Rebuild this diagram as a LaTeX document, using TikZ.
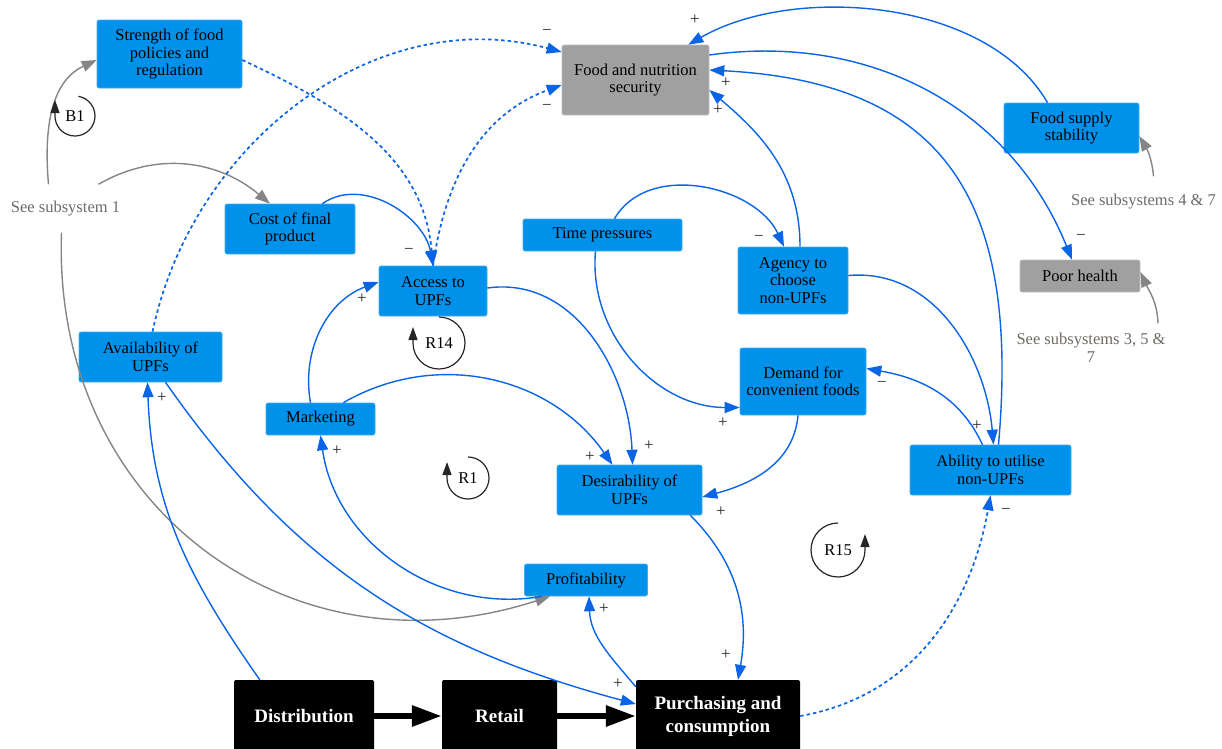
\documentclass[tikz,border=0pt]{standalone}
\usepackage{fontspec}
\setmainfont{Liberation Serif}
\newfontfamily\timesfont{Liberation Serif}
\usetikzlibrary{arrows.meta, positioning, calc}
\definecolor{varc}{HTML}{0091EA}
\definecolor{linkc}{HTML}{0A64E6}
\definecolor{hubc}{HTML}{A0A0A0}
\definecolor{extc}{HTML}{858585}
\definecolor{notec}{HTML}{6E6A66}
\newcommand{\lbl}{\timesfont\fontsize{16.5}{17.5}\selectfont}
\newcommand{\varnode}[5]{%
  \node[varbox, minimum width=#3, minimum height=#4] (#1) at #2 {#5};
}
\newcommand{\hubnode}[5]{%
  \node[hubbox, minimum width=#3, minimum height=#4] (#1) at #2 {#5};
}
\newcommand{\stagenode}[4]{%
  \node[stagebox, minimum width=#3, minimum height=72pt] (#1) at #2 {#4};
}
\newcommand{\looptag}[6]{%
  \node[looplbl] (#1) at #2 {#4};
  \draw[looparc] ([shift={(#5:#3)}]#1.center)
    arc[start angle=#5, end angle=#6, radius=#3] -- ++(0,16);
}

\begin{document}
\begin{tikzpicture}[x=1pt, y=1pt, >={Triangle[length=15pt,width=11pt]},
    varbox/.style={rectangle, rounded corners=2pt, fill=varc,
      draw=varc!75!white, line width=0.6pt, align=center,
      inner sep=0pt, font=\lbl},
    hubbox/.style={varbox, fill=hubc, draw=hubc!70!white},
    stagebox/.style={rectangle, rounded corners=2pt, fill=black,
      text=white, align=center, inner sep=0pt,
      font=\timesfont\bfseries\fontsize{19}{23}\selectfont},
    notetext/.style={text=notec, align=center, inner sep=2pt, font=\lbl},
    signtext/.style={text=black!85, inner sep=0pt,
      font=\timesfont\fontsize{17}{17}\selectfont},
    link/.style={->, linkc, line width=1.4pt},
    dotlink/.style={link, line width=1.7pt, dash pattern=on 3.5pt off 3pt},
    extlink/.style={->, extc, line width=1.4pt},
    flowlink/.style={-{Triangle[length=30pt,width=20pt]}, line width=6pt},
    looplbl/.style={inner sep=0pt, font=\lbl},
    looparc/.style={-{Triangle[length=13pt,width=9pt]}, black!85,
      line width=1.2pt}]
\useasboundingbox (0,0) rectangle (1222,-748);

% variables
\varnode{strength}{(169.5,-54)}{145pt}{68pt}{Strength of food\\policies and\\regulation}
\hubnode{fns}{(635.5,-80)}{147pt}{70pt}{Food and nutrition\\security}
\varnode{supply}{(1071.5,-128)}{135pt}{50pt}{Food supply\\stability}
\hubnode{health}{(1080,-276)}{120pt}{32pt}{Poor health}
\varnode{cost}{(290,-229)}{130pt}{50pt}{Cost of final\\product}
\varnode{access}{(433,-291)}{108pt}{50pt}{Access to\\UPFs}
\varnode{time}{(602.5,-235)}{159pt}{32pt}{Time pressures}
\varnode{agency}{(793,-280.5)}{110pt}{67pt}{Agency to\\choose\\non-UPFs}
\varnode{avail}{(150.5,-357)}{143pt}{50pt}{Availability of\\UPFs}
\varnode{mkt}{(320.5,-419)}{109pt}{32pt}{Marketing}
\varnode{demand}{(803,-381.5)}{126pt}{67pt}{Demand for\\convenient foods}
\varnode{desir}{(629.5,-490)}{145pt}{50pt}{Desirability of\\UPFs}
\varnode{ability}{(990.5,-470)}{161pt}{50pt}{Ability to utilise\\non-UPFs}
\varnode{profit}{(586,-580)}{123pt}{32pt}{Profitability}
\stagenode{distrib}{(304,-716)}{140pt}{Distribution}
\stagenode{retail}{(499.5,-716)}{115pt}{Retail}
\stagenode{purch}{(718,-716)}{164pt}{Purchasing and\\consumption}

% pointers to other subsystems
\node[notetext] (sub1) at (65.5,-209) {See subsystem 1};
\node[notetext] (sub47) at (1143.5,-202) {See subsystems 4 \& 7};
\node[notetext] (sub357) at (1091,-348) {See subsystems 3, 5 \&\\7};

\draw[extlink] ($(sub1.north)+(-17,15)$) to[out=95,in=205] ($(strength.west)+(0,-6)$);
\draw[extlink] ($(sub1.north)+(33,15)$) to[out=30,in=140] ($(cost.north)+(-20,0)$);
\draw[extlink] ($(sub1.south)+(-4,-14)$) to[out=268,in=198,looseness=1.15] ($(profit.south west)+(26,0)$);
\draw[extlink] ($(sub47.north)+(10,16)$) to[out=95,in=300] ($(supply.east)+(0,-8)$);
\draw[extlink] ($(sub357.north)+(67,8)$) to[out=92,in=295] ($(health.east)+(0,4)$);

% causal links
\draw[dotlink] ($(strength.east)+(0,-6)$) to[out=-25,in=95] (access.north);
\draw[link] ($(cost.north east)+(-33,0)$) to[out=35,in=100] (access.north);
\draw[link] ($(mkt.north)+(-10,0)$) to[out=100,in=200] ($(access.west)+(0,9)$);
\draw[link] ($(mkt.north east)+(-32,0)$) to[out=30,in=125] ($(desir.north)+(-17,0)$);
\draw[link] ($(access.east)+(0,3)$) to[out=8,in=92] ($(desir.north)+(3,0)$);
\draw[link] ($(time.north)+(12,0)$) to[out=60,in=115] ($(agency.north)+(-9,0)$);
\draw[link] ($(time.south)+(-7,0)$) to[out=265,in=180] ($(demand.west)+(0,-26)$);
\draw[link] ($(agency.north)+(7,0)$) to[out=90,in=-40] ($(fns.east)+(0,-10)$);
\draw[link] ($(agency.east)+(0,5)$) to[out=5,in=95] ($(ability.north)+(3,0)$);
\draw[link] ($(demand.south)+(-5,0)$) to[out=265,in=15] ($(desir.east)+(0,-7)$);
\draw[link] ($(ability.north)+(-8,0)$) to[out=115,in=-10] ($(demand.east)+(0,13)$);
\draw[link] ($(ability.north)+(8,0)$) to[out=85,in=-3,looseness=1.3] ($(fns.east)+(0,10)$);
\draw[link] ($(supply.north)+(-24,0)$) to[out=120,in=30,looseness=0.85] ($(fns.north east)+(-21,0)$);
\draw[link] ($(fns.east)+(0,25)$) to[out=8,in=112] ($(health.north)+(-8,0)$);
\draw[link] ($(desir.south east)+(-12,0)$) to[out=-45,in=80] ($(purch.north)+(20,0)$);
\draw[link] ($(purch.north west)+(0,-7)$) to[out=130,in=-88] ($(profit.south)+(3,0)$);
\draw[link] ($(profit.south west)+(18,0)$) to[out=190,in=-82] (mkt.south);
\draw[link] ($(avail.south)+(15,0)$) to[out=-55,in=165] ($(purch.west)+(0,12)$);
\draw[link] ($(distrib.north west)+(26,0)$) to[out=125,in=-88] ($(avail.south)+(-3,0)$);
\draw[dotlink] (purch.east) to[out=10,in=-100] (ability.south);
\draw[dotlink] ($(avail.north)+(2,0)$) to[out=78,in=165] ($(fns.west)+(0,28)$);
\draw[dotlink] (access.north) to[out=82,in=200] ($(fns.west)+(0,-5)$);

% supply chain
\draw[flowlink] (distrib) -- (retail);
\draw[flowlink] (retail) -- (purch);

% loop markers
\looptag{b1}{(75,-116)}{20}{B1}{80}{-180}
\looptag{r14}{(439,-343)}{26}{R14}{90}{-180}
\looptag{r1}{(468,-478)}{21}{R1}{90}{-180}
\looptag{r15}{(838,-550)}{27}{R15}{90}{360}

% polarities
\foreach \x/\y/\s [count=\i] in {547/-32/{−}, 695/-20/+, 726/-83/+,
    718/-110/+, 547/-107/{−}, 409/-251/{−}, 362/-299/+, 759/-238/{−},
    1081/-237/{−}, 162/-398/+, 337/-451/+, 723/-423/+, 882/-384/{−},
    977/-426/+, 649/-446/+, 590/-457/+, 721/-512/+, 1006/-511/{−},
    604/-609/+, 726/-655/+, 618/-684/+}
  \node[signtext] (sg\i) at (\x,\y) {\s};
\end{tikzpicture}
\end{document}
